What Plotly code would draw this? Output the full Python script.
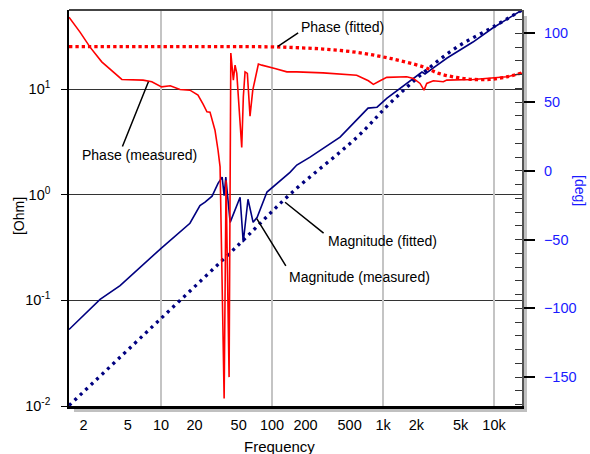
import numpy as np
import plotly.graph_objects as go

# ---------------- data ----------------
freq_mag_meas = [1.48, 2.82, 4.27, 10, 18.2, 22.4, 24.9, 28.8, 32.6, 35.5, 37.0, 38.3,
                 41.9, 51.5, 55.0, 60.7, 67.5, 73.4, 90, 110, 145, 167, 220, 410, 733,
                 883, 1086, 2244, 2390, 2820, 3776, 6460, 9740, 17870]
mag_meas = [0.053, 0.102, 0.138, 0.311, 0.537, 0.79, 0.85, 0.97, 1.28, 1.47, 0.98, 1.47,
            0.548, 0.946, 0.355, 0.906, 0.548, 0.612, 1.06, 1.28, 1.63, 1.91, 2.27, 3.51, 6.61,
            6.74, 8.22, 14.5, 13.9, 15.8, 19.7, 27.9, 37.9, 56.1]

freq_mag_fit = [1.48, 10, 51.5, 145, 583, 1156, 2291, 4645, 9790, 17870]
mag_fit = [0.0101, 0.0675, 0.347, 1.01, 3.51, 7.36, 14.2, 25.0, 38.7, 56.1]

freq_ph_meas = [1.48, 1.86, 2.29, 2.92, 4.43, 6.88, 8.25, 10.1, 12.1, 14.8, 18.2, 21.5,
                23.9, 25.9, 27.6, 30.6, 32.6, 34.0, 37.0, 38.5, 41.0, 42.5, 44.8, 46.4,
                48.1, 51.5, 53.3, 55.1, 57.1, 59.9, 63.3, 67.0, 70.3, 75.3, 80.8, 95.9,
                106, 136, 167, 288, 579, 738, 818, 940, 1080, 1636, 1877, 2155, 2340,
                2475, 2840, 3494, 3748, 6513, 13000, 17870]
ph_meas = [111.8, 100.9, 90.0, 79.3, 66.5, 66.0, 64.8, 61.1, 61.9, 59.2, 58.7, 55.1,
           48.5, 43.0, 42.7, 29.6, 15.0, 2.9, -165.6, -6.8, -150.0, 85.7, 66.0, 76.9,
           70.9, 39.3, 17.0, 53.9, 72.0, 70.9, 39.8, 58.7, 66.0, 77.7, 76.9, 75.7,
           74.5, 72.0, 72.0, 71.3, 69.6, 65.5, 62.9, 65.5, 68.0, 68.4, 67.2, 63.6, 58.7,
           63.6, 65.5, 64.8, 66.0, 66.5, 68.4, 70.9]

freq_ph_fit = [1.48, 100, 145, 288, 579, 1156, 2291, 3175, 4590, 6513, 9150, 13000, 17870]
ph_fit = [90.3, 90.2, 89.8, 88.6, 86.2, 81.8, 75.7, 70.9, 68.0, 66.5, 66.5, 68.4, 71.3]

x_tickvals = [2, 5, 10, 20, 50, 100, 200, 500, 1000, 2000, 5000, 10000]
x_ticktext = ["2", "5", "10", "20", "50", "100", "200", "500", "1k", "2k", "5k", "10k"]
x_gridvals = [10, 100, 1000, 10000]
y_tickvals = [0.01, 0.1, 1, 10]
y_ticktext = ["10<sup>-2</sup>", "10<sup>-1</sup>", "10<sup>0</sup>", "10<sup>1</sup>"]
y2_tickvals = [-150, -100, -50, 0, 50, 100]

X_RANGE = [np.log10(1.48), np.log10(17870)]
Y_RANGE = [-2, np.log10(56.1)]
Y2_RANGE = [-171, 117]

NAVY = "#000080"
RED = "#ff0000"
BLUE = "#1a1aff"
FONT = "Liberation Sans, Arial, sans-serif"

fig = go.Figure()
fig.add_trace(go.Scatter(x=[None], y=[None], xaxis="x2", yaxis="y", mode="lines",
                         showlegend=False, hoverinfo="skip"))
fig.add_trace(go.Scatter(x=[None], y=[None], xaxis="x", yaxis="y3", mode="lines",
                         showlegend=False, hoverinfo="skip"))
fig.add_trace(go.Scatter(x=freq_mag_meas, y=mag_meas, mode="lines",
                         line=dict(color=NAVY, width=1.6), xaxis="x", yaxis="y"))
fig.add_trace(go.Scatter(x=freq_mag_fit, y=mag_fit, mode="lines",
                         line=dict(color=NAVY, width=3.3, dash="3px,4.5px", shape="spline"),
                         xaxis="x", yaxis="y"))
fig.add_trace(go.Scatter(x=freq_ph_meas, y=ph_meas, mode="lines",
                         line=dict(color=RED, width=1.6), xaxis="x", yaxis="y2"))
fig.add_trace(go.Scatter(x=freq_ph_fit, y=ph_fit, mode="lines",
                         line=dict(color=RED, width=3.3, dash="3.3px,3px", shape="spline"),
                         xaxis="x", yaxis="y2"))

tickfont = dict(family=FONT, size=14.5, color="black")

fig.update_layout(
    width=590, height=454, autosize=False,
    margin=dict(l=69, r=68, t=10, b=48, pad=0),
    paper_bgcolor="white", plot_bgcolor="white",
    showlegend=False, hovermode=False,
    font=dict(family=FONT, size=14, color="black"),
    xaxis=dict(type="log", range=X_RANGE, tickvals=x_tickvals, ticktext=x_ticktext,
               ticks="", showgrid=False, zeroline=False, showline=True,
               linecolor="black", linewidth=2.5, tickfont=tickfont,
               ticklabelstandoff=4),
    xaxis2=dict(type="log", range=X_RANGE, overlaying="x", anchor="y",
                tickvals=x_gridvals, showticklabels=False, ticks="",
                showgrid=True, gridcolor="#c4c4c4", gridwidth=2,
                showline=False, zeroline=False),
    yaxis=dict(type="log", range=Y_RANGE, tickvals=y_tickvals, ticktext=y_ticktext,
               ticks="outside", ticklen=6, tickcolor="black", tickwidth=1.2,
               showgrid=True, gridcolor="#333333", gridwidth=1,
               showline=True, linecolor="black", linewidth=1.5, zeroline=False,
               tickfont=tickfont, ticklabelstandoff=8),
    yaxis2=dict(range=Y2_RANGE, overlaying="y", side="right", anchor="x",
                tickvals=y2_tickvals, ticks="outside", ticklen=11, tickcolor="black",
                tickwidth=1.5, showgrid=False, zeroline=False, showline=True,
                linecolor="#555555", linewidth=2,
                tickfont=dict(family=FONT, size=14.5, color=BLUE), ticklabelstandoff=6),
    yaxis3=dict(range=Y2_RANGE, overlaying="y", side="right", anchor="x",
                dtick=10, tick0=0, ticks="inside", ticklen=7, tickcolor="#333333",
                tickwidth=1.2, showticklabels=False, showgrid=False, zeroline=False,
                showline=False),
)

# drop shadow and top frame
fig.add_shape(type="rect", xref="paper", yref="paper", x0=0.011, x1=1.011,
              y0=-0.0152, y1=0, fillcolor="#c0c0c0", line_width=0, layer="below")
fig.add_shape(type="rect", xref="paper", yref="paper", x0=1.0, x1=1.011,
              y0=-0.0152, y1=0.985, fillcolor="#c0c0c0", line_width=0, layer="below")
fig.add_shape(type="line", xref="paper", yref="paper", x0=0, x1=1, y0=1, y1=1,
              line=dict(color="#444444", width=2))

afont = dict(family=FONT, size=14, color="black")

# leader lines (arrow annotations without arrow heads)
def leader(xv, yv, yref, ax, ay):
    fig.add_annotation(x=np.log10(xv), y=yv, xref="x", yref=yref, ax=ax, ay=ay,
                       text="", showarrow=True, arrowhead=0, arrowwidth=1.5,
                       arrowcolor="black", standoff=0, startstandoff=0)

leader(113, 90.5, "y2", 21.7, -14.6)
leader(7.69, 64.8, "y2", -26.6, 66.3)
leader(131, np.log10(0.849), "y", 40, 32)
leader(72.8, np.log10(0.594), "y", 30, 48.7)

labels = [
    ("Phase (fitted)", 0.5077, 0.958, "left"),
    ("Phase (measured)", 0.1556, 0.634, "center"),
    ("Magnitude (fitted)", 0.567, 0.417, "left"),
    ("Magnitude (measured)", 0.481, 0.3265, "left"),
]
for txt, px, py, xa in labels:
    fig.add_annotation(x=px, y=py, xref="paper", yref="paper", text=txt,
                       showarrow=False, xanchor=xa, yanchor="middle", font=afont)

fig.add_annotation(x=0.4636, y=-0.1035, xref="paper", yref="paper", text="Frequency",
                   showarrow=False, xanchor="center", yanchor="middle",
                   font=dict(family=FONT, size=15, color="black"))
fig.add_annotation(x=-0.110, y=0.48, xref="paper", yref="paper", text="[Ohm]",
                   showarrow=False, textangle=-90, xanchor="center", yanchor="middle",
                   font=dict(family=FONT, size=14, color="black"))
fig.add_annotation(x=1.128, y=0.543, xref="paper", yref="paper", text="[deg]",
                   showarrow=False, textangle=90, xanchor="center", yanchor="middle",
                   font=dict(family=FONT, size=14, color=BLUE))

fig.write_html("out.html")
